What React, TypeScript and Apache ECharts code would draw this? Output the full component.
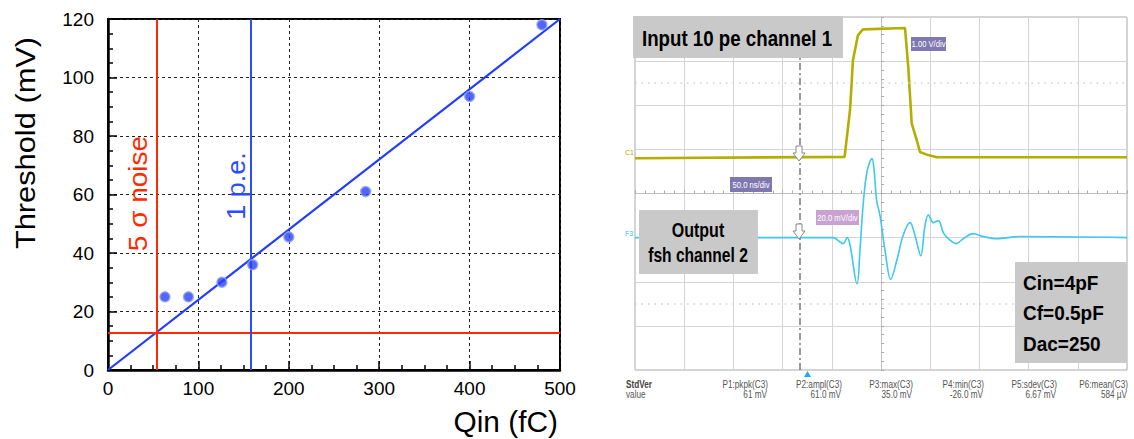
import React, { useEffect, useRef } from "react";
import * as echarts from "echarts";

// ---------- Left panel: threshold vs injected charge ----------
const QIN_FC = [63, 89, 126, 160, 200, 285, 400, 480];
const THRESHOLD_MV = [25, 25, 30, 36, 45.5, 61, 93.5, 118];
const FIT_QIN = [0, 500];
const FIT_MV = [0, 120];
const NOISE_QIN = 53.5; // 5 sigma noise level (fC)
const NOISE_MV = 12.8; // threshold at 5 sigma noise
const PE_QIN = 158; // 1 p.e.

// ---------- Right panel: oscilloscope traces ----------
const C1_TIME_NS = [0, 213, 218.5, 221.5, 226.6, 231.7, 274.4, 277.7, 281.2, 286.3, 289.6, 297.8, 306.9, 500];
const C1_VOLT = [0, 0.03, 1.09, 2.22, 2.79, 2.92, 2.95, 2.07, 0.79, 0.41, 0.14, 0.07, 0.02, 0.02];
const C3_TIME_NS = [0, 201, 211.4, 215.5, 225.6, 228.7, 231.7, 235.8, 240.9, 242.9, 245.6, 249.0, 254.1, 259.9, 266.0, 272.4, 279.5, 284.6, 290.4, 294.7, 298.1, 303.2, 308.3, 313.3, 318.4, 326.2, 333.6, 343.8, 354.0, 367.6, 391.3, 500];
const C3_MV = [0, 0, -2.7, 0, -20.9, -5, 14, 30, 35.8, 31, 16.8, 10.0, -5.9, -19.0, -10.4, 0.9, 6.8, 0.9, -8.2, 5.4, 10.4, 6.8, 7.7, 2.3, -0.5, -2.7, -0.5, 1.8, 0.5, -0.5, 0.5, 0];
const CURSOR_NS = 167;
const DOTTED_ROWS_MV = [70, -30];

const MEAS_NAMES = ["P1:pkpk(C3)", "P2:ampl(C3)", "P3:max(C3)", "P4:min(C3)", "P5:sdev(C3)", "P6:mean(C3)"];
const MEAS_VALUES = ["61 mV", "61.0 mV", "35.0 mV", "-26.0 mV", "6.67 mV", "584 µV"];
const MEAS_RIGHT_X = [768, 842, 913, 984, 1057, 1128];

const FONT = "Liberation Sans";

export default function App() {
  const ref = useRef<HTMLDivElement>(null);
  useEffect(() => {
    if (!ref.current) return;
    const chart = echarts.init(ref.current, undefined, { renderer: "svg" });

    const box = (x: number, y: number, w: number, h: number, fill: string) => ({
      type: "rect",
      shape: { x, y, width: w, height: h },
      style: { fill },
      z: 100,
    });
    const txt = (x: number, y: number, text: string, o: any = {}) => ({
      type: "text",
      x,
      y,
      scaleX: o.scaleX ?? 1,
      rotation: o.rotation ?? 0,
      z: 101,
      style: {
        text,
        fill: o.color ?? "#000",
        fontSize: o.size ?? 12,
        fontWeight: o.weight ?? "normal",
        fontFamily: o.family ?? FONT,
        align: o.align ?? "left",
        verticalAlign: "middle",
      },
    });

    const graphic: any[] = [
      // axis titles left
      txt(25, 143, "Threshold (mV)", { size: 28, rotation: Math.PI / 2, align: "center", scaleX: 1.1 }),
      txt(558, 422, "Qin (fC)", { size: 29, align: "right", scaleX: 1.03 }),
      txt(139, 193.5, "5 σ noise", { size: 25, rotation: Math.PI / 2, align: "center", scaleX: 1.12, color: "#ff2a00" }),
      txt(236, 186, "1 p.e.", { size: 25, rotation: Math.PI / 2, align: "center", scaleX: 1.08, color: "#2a4cff" }),
      // scope annotation boxes
      box(633, 16, 210, 42, "#c9c9c9"),
      txt(642, 38, "Input 10 pe channel 1", { size: 22, weight: "bold", scaleX: 0.85 }),
      box(639, 210, 119, 64, "#c9c9c9"),
      txt(698, 230, "Output", { size: 20, weight: "bold", scaleX: 0.8, align: "center" }),
      txt(698, 255, "fsh channel 2", { size: 20, weight: "bold", scaleX: 0.78, align: "center" }),
      box(1015, 262, 112, 101, "#c9c9c9"),
      txt(1023, 283, "Cin=4pF", { size: 20, weight: "bold", scaleX: 0.95 }),
      txt(1023, 313, "Cf=0.5pF", { size: 20, weight: "bold", scaleX: 0.95 }),
      txt(1023, 343.5, "Dac=250", { size: 20, weight: "bold", scaleX: 0.95 }),
      box(911, 37, 35, 14, "#7f78b0"),
      txt(928.5, 44, "1.00 V/div", { size: 9, color: "#fff", scaleX: 0.85, align: "center" }),
      box(730, 177, 42, 15, "#7f78b0"),
      txt(751, 184.5, "50.0 ns/div", { size: 9, color: "#fff", scaleX: 0.85, align: "center" }),
      box(816, 210, 43, 15, "#c9a2d2"),
      txt(837.5, 217.5, "20.0 mV/div", { size: 9, color: "#fff", scaleX: 0.85, align: "center" }),
      txt(625, 152, "C1", { size: 7, color: "#b3ab00" }),
      txt(625, 233, "F3", { size: 7, color: "#33c4ee" }),
      // trigger arrows
      {
        type: "polygon",
        shape: { points: [[796, 146], [802, 146], [802, 153], [805, 153], [799, 161], [793, 153], [796, 153]] },
        style: { fill: "#fff", stroke: "#888", lineWidth: 1 },
        z: 102,
      },
      {
        type: "polygon",
        shape: { points: [[796, 224], [802, 224], [802, 231], [805, 231], [799, 239], [793, 231], [796, 231]] },
        style: { fill: "#fff", stroke: "#888", lineWidth: 1 },
        z: 102,
      },
      {
        type: "polygon",
        shape: { points: [[807.5, 371], [811, 377], [804, 377]] },
        style: { fill: "#2aa6e6" },
        z: 102,
      },
      txt(626, 385, "StdVer", { size: 10, weight: "bold", color: "#444", scaleX: 0.82 }),
      txt(626, 395, "value", { size: 10, color: "#555", scaleX: 0.82 }),
    ];
    MEAS_NAMES.forEach((n, i) => {
      graphic.push(txt(MEAS_RIGHT_X[i], 385, n, { size: 10, color: "#555", scaleX: 0.82, align: "right" }));
      graphic.push(txt(MEAS_RIGHT_X[i] - 1, 395, MEAS_VALUES[i], { size: 10, color: "#555", scaleX: 0.82, align: "right" }));
    });

    const option: any = {
      animation: false,
      backgroundColor: "#fff",
      grid: [
        { left: 108, top: 19, width: 452, height: 351, show: true, borderColor: "#000", borderWidth: 2 },
        { left: 635, top: 17, width: 492, height: 353, show: true, borderColor: "#a8a8a8", borderWidth: 1 },
      ],
      xAxis: [
        {
          gridIndex: 0,
          type: "value",
          min: 0,
          max: 500,
          interval: 100,
          axisLine: { show: true, onZero: false, lineStyle: { color: "#000", width: 2.5 } },
          axisTick: { show: true, inside: true, length: 9, lineStyle: { color: "#000", width: 1.5 } },
          minorTick: { show: true, splitNumber: 4, length: 5, lineStyle: { color: "#000", width: 1.5 } },
          splitLine: { show: true, lineStyle: { color: "#222", type: [3, 3], width: 1 } },
          axisLabel: { fontSize: 19, color: "#000", margin: 9, fontFamily: FONT },
        },
        {
          gridIndex: 1,
          type: "value",
          min: 0,
          max: 500,
          interval: 50,
          axisLine: { show: false },
          axisTick: { show: false },
          axisLabel: { show: false },
          splitLine: { show: true, lineStyle: { color: "#d4d4d4", width: 1 } },
        },
        {
          gridIndex: 1,
          type: "value",
          min: 0,
          max: 500,
          interval: 50,
          position: "bottom",
          offset: -176.5,
          axisLine: { show: true, onZero: false, lineStyle: { color: "#c0c0c0" } },
          axisTick: { show: true, inside: true, length: 3, lineStyle: { color: "#aaa" } },
          minorTick: { show: true, splitNumber: 5, length: 3, lineStyle: { color: "#aaa" } },
          axisLabel: { show: false },
          splitLine: { show: false },
        },
      ],
      yAxis: [
        {
          gridIndex: 0,
          type: "value",
          min: 0,
          max: 120,
          interval: 20,
          axisLine: { show: true, onZero: false, lineStyle: { color: "#000", width: 2.5 } },
          axisTick: { show: true, inside: true, length: 9, lineStyle: { color: "#000", width: 1.5 } },
          minorTick: { show: true, splitNumber: 4, length: 5, lineStyle: { color: "#000", width: 1.5 } },
          splitLine: { show: true, lineStyle: { color: "#222", type: [3, 3], width: 1 } },
          axisLabel: { fontSize: 19, color: "#000", margin: 14, fontFamily: FONT },
        },
        {
          gridIndex: 1,
          type: "value",
          min: -60,
          max: 100,
          interval: 20,
          axisLine: { show: false },
          axisTick: { show: false },
          axisLabel: { show: false },
          splitLine: { show: true, lineStyle: { color: "#d4d4d4", width: 1 } },
        },
        {
          gridIndex: 1,
          type: "value",
          min: -4.8,
          max: 3.2,
          show: false,
        },
        {
          gridIndex: 1,
          type: "value",
          min: 0,
          max: 8,
          interval: 1,
          position: "left",
          offset: -246,
          axisLine: { show: true, onZero: false, lineStyle: { color: "#c0c0c0" } },
          axisTick: { show: true, inside: true, length: 3, lineStyle: { color: "#aaa" } },
          minorTick: { show: true, splitNumber: 5, length: 3, lineStyle: { color: "#aaa" } },
          axisLabel: { show: false },
          splitLine: { show: false },
        },
      ],
      series: [
        {
          type: "line",
          xAxisIndex: 0,
          yAxisIndex: 0,
          data: FIT_QIN.map((q, i) => [q, FIT_MV[i]]),
          showSymbol: false,
          lineStyle: { color: "#1f3cff", width: 2.2 },
          silent: true,
          z: 3,
          markLine: {
            silent: true,
            symbol: "none",
            animation: false,
            label: { show: false },
            data: [
              { xAxis: NOISE_QIN, lineStyle: { color: "#ff2a00", width: 2, type: "solid" } },
              { yAxis: NOISE_MV, lineStyle: { color: "#ff2a00", width: 2, type: "solid" } },
              { xAxis: PE_QIN, lineStyle: { color: "#2a4cff", width: 2, type: "solid" } },
            ],
          },
        },
        {
          type: "scatter",
          xAxisIndex: 0,
          yAxisIndex: 0,
          data: QIN_FC.map((q, i) => [q, THRESHOLD_MV[i]]),
          symbol: "circle",
          symbolSize: 10,
          itemStyle: { color: "#2a40f0", borderColor: "#8ea2ff", borderWidth: 1.5 },
          z: 5,
        },
        {
          type: "line",
          xAxisIndex: 1,
          yAxisIndex: 1,
          data: C3_TIME_NS.map((t, i) => [t, C3_MV[i]]),
          showSymbol: false,
          smooth: 0.35,
          lineStyle: { color: "#3cc8f0", width: 1.6 },
          silent: true,
          z: 4,
          markLine: {
            silent: true,
            symbol: "none",
            animation: false,
            label: { show: false },
            data: [
              { xAxis: CURSOR_NS, lineStyle: { color: "#7a7a7a", width: 1.5, type: [7, 3, 2, 3] } },
              ...DOTTED_ROWS_MV.map((v) => ({ yAxis: v, lineStyle: { color: "#cfcfcf", width: 1.5, type: [1.5, 5] } })),
            ],
          },
        },
        {
          type: "line",
          xAxisIndex: 1,
          yAxisIndex: 2,
          data: C1_TIME_NS.map((t, i) => [t, C1_VOLT[i]]),
          showSymbol: false,
          smooth: false,
          lineStyle: { color: "#b5ad00", width: 2.6 },
          silent: true,
          z: 4,
        },
      ],
      graphic,
    };
    chart.setOption(option);
    return () => chart.dispose();
  }, []);
  return (
    <div
      ref={ref}
      style={{ position: "absolute", left: 0, top: 0, width: 1134, height: 439, background: "#fff" }}
    />
  );
}
